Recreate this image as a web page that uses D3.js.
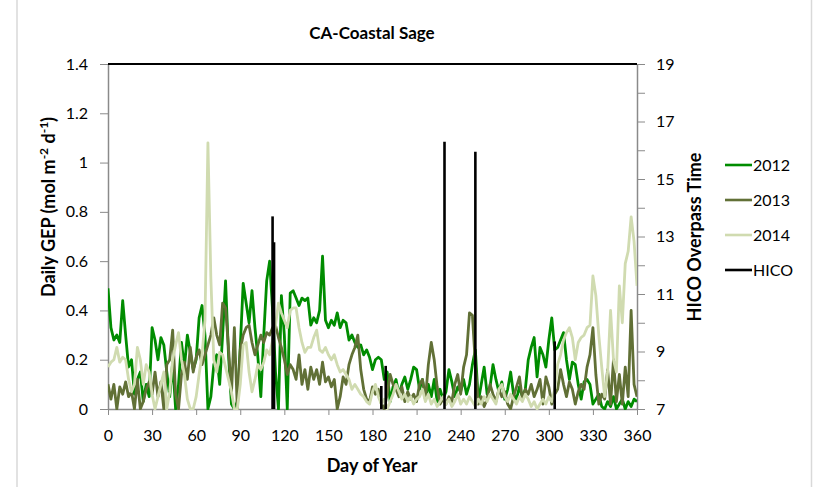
<!DOCTYPE html>
<html>
<head>
<meta charset="utf-8">
<script src="https://cdn.jsdelivr.net/npm/d3@7"></script>
<style>
  body { margin: 0; background: #fff; }
  text { font-family: Lato, "Open Sans", sans-serif; }
</style>
</head>
<body>
<div id="chart"></div>
<script>
// day of year, sampled every second day
const days = d3.range(0, 361, 2);

const gep2012 = [
  0.49, 0.33, 0.28, 0.30, 0.27, 0.44, 0.30, 0.17, 0.20, 0.06,
  0.12, 0.15, 0.03, 0.10, 0.05, 0.33, 0.28, 0.20, 0.29, 0.26,
  0.15, 0.05, 0.19, 0.00, 0.10, 0.27, 0.17, 0.30, 0.23, 0.16,
  0.20, 0.37, 0.42, 0.30, 0.00, 0.05, 0.18, 0.22, 0.10, 0.30,
  0.52, 0.22, 0.02, 0.00, 0.03, 0.25, 0.51, 0.43, 0.35, 0.48,
  0.33, 0.21, 0.05, 0.30, 0.52, 0.60, 0.40, 0.15, 0.00, 0.46,
  0.30, 0.00, 0.47, 0.48, 0.45, 0.42, 0.45, 0.44, 0.45, 0.34,
  0.37, 0.35, 0.40, 0.62, 0.36, 0.33, 0.36, 0.34, 0.39, 0.33,
  0.36, 0.35, 0.28, 0.30, 0.27, 0.25, 0.26, 0.22, 0.24, 0.21,
  0.16, 0.20, 0.21, 0.20, 0.12, 0.15, 0.03, 0.09, 0.12, 0.06,
  0.10, 0.13, 0.08, 0.12, 0.17, 0.16, 0.08, 0.12, 0.04, 0.10,
  0.05, 0.12, 0.03, 0.08, 0.04, 0.07, 0.16, 0.11, 0.05, 0.09,
  0.07, 0.12, 0.06, 0.10, 0.18, 0.24, 0.03, 0.10, 0.17, 0.06,
  0.09, 0.18, 0.12, 0.07, 0.11, 0.04, 0.08, 0.15, 0.06, 0.04,
  0.09, 0.05, 0.08, 0.20, 0.25, 0.29, 0.13, 0.25, 0.22, 0.17,
  0.28, 0.37, 0.24, 0.25, 0.28, 0.31, 0.20, 0.12, 0.19, 0.18,
  0.10, 0.04, 0.11, 0.12, 0.10, 0.02, 0.04, 0.06, 0.01, 0.00,
  0.03, 0.01, 0.05, 0.00, 0.02, 0.04, 0.00, 0.03, 0.01, 0.04,
  0.03
];

const gep2013 = [
  0.10, 0.04, 0.10, 0.00, 0.09, 0.06, 0.11, 0.05, 0.07, 0.00,
  0.12, 0.00, 0.03, 0.08, 0.11, 0.06, 0.15, 0.05, 0.11, 0.00,
  0.18, 0.20, 0.32, 0.06, 0.00, 0.14, 0.19, 0.12, 0.25, 0.15,
  0.21, 0.24, 0.18, 0.22, 0.26, 0.30, 0.37, 0.30, 0.26, 0.43,
  0.41, 0.25, 0.06, 0.33, 0.00, 0.24, 0.30, 0.33, 0.34, 0.27,
  0.22, 0.26, 0.30, 0.27, 0.31, 0.30, 0.33, 0.34, 0.29, 0.25,
  0.20, 0.14, 0.18, 0.16, 0.12, 0.22, 0.10, 0.16, 0.08, 0.17,
  0.12, 0.16, 0.10, 0.19, 0.11, 0.13, 0.09, 0.12, 0.00, 0.05,
  0.13, 0.10, 0.18, 0.22, 0.25, 0.30, 0.16, 0.08, 0.04, 0.03,
  0.09, 0.06, 0.08, 0.02, 0.00, 0.06, 0.14, 0.10, 0.08, 0.05,
  0.09, 0.03, 0.07, 0.04, 0.06, 0.03, 0.10, 0.12, 0.04, 0.18,
  0.27, 0.20, 0.09, 0.02, 0.04, 0.02, 0.05, 0.03, 0.10, 0.14,
  0.06, 0.17, 0.22, 0.39, 0.38, 0.18, 0.02, 0.05, 0.01, 0.04,
  0.10, 0.06, 0.03, 0.08, 0.05, 0.07, 0.02, 0.00, 0.05, 0.09,
  0.13, 0.04, 0.08, 0.06, 0.10, 0.05, 0.08, 0.12, 0.02, 0.13,
  0.09, 0.02, 0.06, 0.08, 0.16, 0.10, 0.05, 0.11, 0.08, 0.02,
  0.07, 0.10, 0.08, 0.17, 0.22, 0.33, 0.14, 0.02, 0.06, 0.04,
  0.16, 0.02, 0.20, 0.03, 0.14, 0.02, 0.17, 0.05, 0.40, 0.10,
  0.05
];

const gep2014 = [
  0.17, 0.19, 0.20, 0.25, 0.19, 0.21, 0.20, 0.12, 0.07, 0.10,
  0.25, 0.20, 0.10, 0.18, 0.15, 0.06, 0.00, 0.05, 0.10, 0.15,
  0.00, 0.07, 0.20, 0.26, 0.31, 0.20, 0.14, 0.04, 0.00, 0.00,
  0.05, 0.14, 0.22, 0.36, 1.08, 0.53, 0.20, 0.15, 0.23, 0.22,
  0.17, 0.12, 0.07, 0.00, 0.00, 0.10, 0.26, 0.27, 0.15, 0.07,
  0.12, 0.18, 0.16, 0.19, 0.24, 0.22, 0.28, 0.34, 0.43, 0.39,
  0.36, 0.33, 0.40, 0.41, 0.41, 0.33, 0.27, 0.23, 0.25, 0.25,
  0.29, 0.32, 0.24, 0.23, 0.25, 0.22, 0.20, 0.22, 0.18, 0.15,
  0.16, 0.14, 0.12, 0.08, 0.10, 0.08, 0.06, 0.05, 0.03, 0.02,
  0.07, 0.10, 0.05, 0.02, 0.04, 0.00, 0.03, 0.06, 0.10, 0.07,
  0.04, 0.06, 0.03, 0.05, 0.02, 0.04, 0.05, 0.08, 0.03, 0.06,
  0.02, 0.04, 0.01, 0.03, 0.05, 0.02, 0.04, 0.01, 0.03, 0.06,
  0.02, 0.04, 0.02, 0.05, 0.03, 0.01, 0.04, 0.02, 0.05, 0.03,
  0.06, 0.04, 0.02, 0.08, 0.10, 0.05, 0.03, 0.06, 0.04, 0.02,
  0.05, 0.03, 0.06, 0.04, 0.01, 0.03, 0.00, 0.02, 0.04, 0.02,
  0.05, 0.03, 0.08, 0.18, 0.22, 0.28, 0.31, 0.33, 0.29, 0.20,
  0.27, 0.29, 0.30, 0.33, 0.34, 0.54, 0.46, 0.30, 0.17, 0.05,
  0.15, 0.40, 0.20, 0.15, 0.50, 0.35, 0.59, 0.64, 0.78, 0.68,
  0.50
];

// HICO overpasses: day of year and overpass time (hour)
const hicoDays = [112, 113, 186, 189, 229, 250, 304];
const hicoTimes = [13.7, 12.8, 7.8, 8.5, 16.3, 15.95, 9.35];

const xTicks = [0, 30, 60, 90, 120, 150, 180, 210, 240, 270, 300, 330, 360];
const yTicks = [0, 0.2, 0.4, 0.6, 0.8, 1, 1.2, 1.4];
const y2Ticks = [7, 8, 9, 10, 11, 12, 13, 14, 15, 16, 17, 18, 19];

const series = [
  { name: '2012', values: gep2012, color: '#008c00' },
  { name: '2013', values: gep2013, color: '#617036' },
  { name: '2014', values: gep2014, color: '#d0dbb0' }
];

const width = 816, height = 487;
const plotLeft = 108, plotRight = 637, plotTop = 64, plotBottom = 409;

const svg = d3.select('#chart').append('svg')
  .attr('width', width)
  .attr('height', height);

// chart area edges
svg.append('line').attr('x1', 17).attr('x2', 17).attr('y1', 0).attr('y2', height)
  .attr('stroke', '#d9d9d9').attr('stroke-width', 1.5);
svg.append('line').attr('x1', 811.5).attr('x2', 811.5).attr('y1', 0).attr('y2', height)
  .attr('stroke', '#d9d9d9').attr('stroke-width', 1.5);

const x = d3.scaleLinear().domain([0, 360]).range([plotLeft, plotRight]);
const y = d3.scaleLinear().domain([0, 1.4]).range([plotBottom, plotTop]);
const y2 = d3.scaleLinear().domain([7, 19]).range([plotBottom, plotTop]);

svg.append('defs').append('clipPath').attr('id', 'plot')
  .append('rect')
  .attr('x', plotLeft).attr('y', plotTop - 1)
  .attr('width', plotRight - plotLeft).attr('height', plotBottom - plotTop + 2);

// axes
const axisColor = '#8a8a8a';
function styleAxis(g) {
  g.select('.domain').attr('stroke', axisColor).attr('stroke-width', 1.5);
  g.selectAll('.tick line').attr('stroke', axisColor).attr('stroke-width', 1);
  g.selectAll('.tick text')
    .attr('fill', '#000')
    .style('font-size', '16px')
    .style('font-family', 'Lato, "Open Sans", sans-serif');
}

svg.append('g')
  .attr('transform', `translate(0,${plotBottom})`)
  .call(d3.axisBottom(x).tickValues(xTicks).tickSize(6).tickSizeOuter(0).tickPadding(15))
  .call(styleAxis);

svg.append('g')
  .attr('transform', `translate(${plotLeft},0)`)
  .call(d3.axisLeft(y).tickValues(yTicks).tickSize(8).tickSizeOuter(0).tickPadding(12)
    .tickFormat(d => String(d)))
  .call(styleAxis);

svg.append('g')
  .attr('transform', `translate(${plotRight},0)`)
  .call(d3.axisRight(y2).tickValues(y2Ticks).tickSize(8).tickSizeOuter(0).tickPadding(11)
    .tickFormat(d => (d % 2 === 1 ? String(d) : '')))
  .call(styleAxis);

// GEP lines
const line = d3.line()
  .x((d, i) => x(days[i]))
  .y(d => y(d));

const plot = svg.append('g').attr('clip-path', 'url(#plot)');

series.forEach(s => {
  plot.append('path')
    .datum(s.values)
    .attr('fill', 'none')
    .attr('stroke', s.color)
    .attr('stroke-width', 2.8)
    .attr('stroke-linejoin', 'round')
    .attr('d', line);
});

// HICO overpass spikes on the secondary axis
const spike = d3.line()
  .x(d => x(d[0]))
  .y(d => y2(d[1]));

hicoDays.forEach((day, i) => {
  plot.append('path')
    .datum([[day, 7], [day, hicoTimes[i]]])
    .attr('fill', 'none')
    .attr('stroke', '#000')
    .attr('stroke-width', 2.6)
    .attr('d', spike);
});

// top edge of plot
svg.append('line')
  .attr('x1', plotLeft).attr('x2', plotRight)
  .attr('y1', y2(19)).attr('y2', y2(19))
  .attr('stroke', '#000').attr('stroke-width', 2);

// titles
svg.append('text')
  .attr('x', 372).attr('y', 39)
  .attr('text-anchor', 'middle')
  .style('font-size', '17px').style('font-weight', 'bold')
  .text('CA-Coastal Sage');

svg.append('text')
  .attr('x', 372).attr('y', 472)
  .attr('text-anchor', 'middle')
  .style('font-size', '18px').style('font-weight', 'bold')
  .text('Day of Year');

const yTitle = svg.append('text')
  .attr('transform', 'translate(55,207) rotate(-90)')
  .attr('text-anchor', 'middle')
  .style('font-size', '18px').style('font-weight', 'bold');
yTitle.append('tspan').text('Daily GEP (mol m');
yTitle.append('tspan').attr('baseline-shift', 'super').style('font-size', '12px').text('-2');
yTitle.append('tspan').text(' d');
yTitle.append('tspan').attr('baseline-shift', 'super').style('font-size', '12px').text('-1');
yTitle.append('tspan').text(')');

svg.append('text')
  .attr('transform', 'translate(701,237) rotate(-90)')
  .attr('text-anchor', 'middle')
  .style('font-size', '18px').style('font-weight', 'bold')
  .text('HICO Overpass Time');

// legend
const legendItems = series.map(s => ({ name: s.name, color: s.color }))
  .concat([{ name: 'HICO', color: '#000' }]);
const legend = svg.append('g');
legendItems.forEach((d, i) => {
  const ly = 165 + i * 35;
  legend.append('line')
    .attr('x1', 725).attr('x2', 752)
    .attr('y1', ly).attr('y2', ly)
    .attr('stroke', d.color).attr('stroke-width', 2.6);
  legend.append('text')
    .attr('x', 753).attr('y', ly + 6)
    .style('font-size', '16px')
    .text(d.name);
});
</script>
</body>
</html>
